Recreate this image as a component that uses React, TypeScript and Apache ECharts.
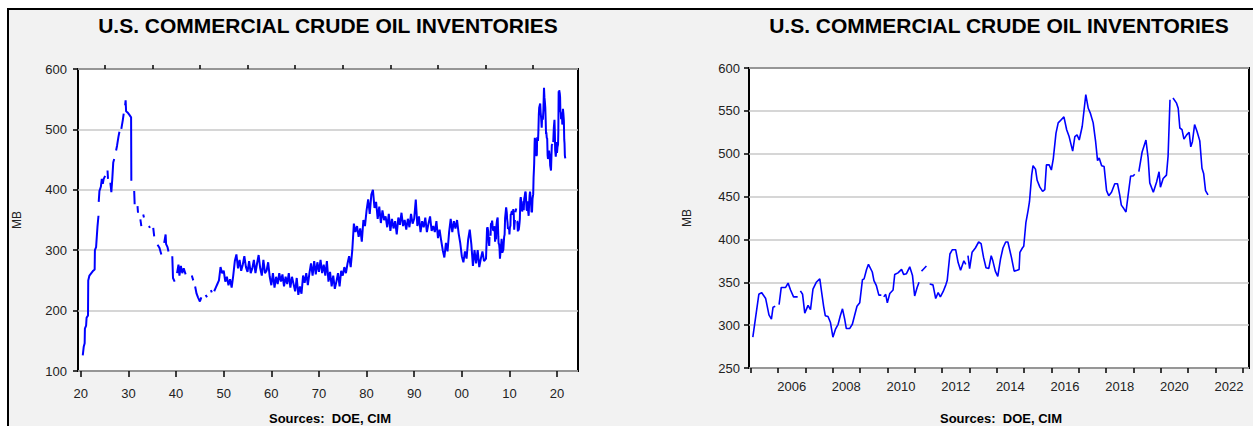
import React, { useEffect, useRef } from "react";
import * as echarts from "echarts";

const TITLE = "U.S. COMMERCIAL CRUDE OIL INVENTORIES";
const SOURCES = "Sources:  DOE, CIM";
const FONT = "'Liberation Sans', Arial, Helvetica, sans-serif";

// Left chart: early years (gaps where the record is broken)
const leftEarly: [number, number | null][] = [
  [1920.4, 126], [1920.6, 140], [1920.8, 146], [1920.85, 170], [1921.1, 175], [1921.2, 188], [1921.5, 192],
  [1921.55, 250], [1921.8, 258], [1922.2, 262], [1922.6, 266], [1922.9, 268], [1922.95, 300], [1923.2, 305],
  [1923.5, 340], [1923.7, 357], [1923.72, null], [1923.75, 380], [1923.9, 398], [1924.2, 405], [1924.4, 418],
  [1924.6, 410], [1924.8, 418], [1925.1, 423], [1925.3, null], [1925.6, 432], [1925.7, 418], [1925.9, null],
  [1926.2, 412], [1926.4, 396], [1926.6, 418], [1926.8, 445], [1927.0, 451], [1927.2, null], [1927.4, 465],
  [1927.6, 473], [1927.9, 488], [1928.1, 496], [1928.3, null], [1928.5, 501], [1928.8, 515], [1929.0, 526],
  [1929.15, null], [1929.3, 540], [1929.4, 548], [1929.5, 530], [1929.8, 528], [1930.2, 524], [1930.55, 520],
  [1930.6, 415], [1930.9, null], [1931.2, 398], [1931.3, 376], [1931.6, null], [1931.9, 373], [1932.0, 362],
  [1932.2, null], [1932.5, 351], [1932.7, 340], [1932.9, null], [1933.1, 359], [1933.25, 354], [1933.8, null],
  [1934.3, 340], [1934.5, 337], [1934.8, null], [1935.2, 337], [1935.4, 323], [1935.7, null], [1936.1, 309],
  [1936.5, 304], [1936.9, 293], [1937.2, null], [1937.5, 312], [1937.8, 326], [1937.9, 310], [1938.2, 305],
  [1938.4, 298], [1938.8, null], [1939.2, 290], [1939.35, 254], [1939.7, 248], [1939.9, null], [1940.2, 262],
  [1940.5, 276], [1940.7, 258], [1941.0, 274], [1941.3, 262], [1941.6, 270], [1942.0, 260], [1942.5, null],
  [1943.3, 258], [1943.6, 250], [1943.8, null], [1944.0, 240], [1944.3, 228], [1944.6, 222], [1945.0, 215],
  [1945.3, 222], [1945.7, null], [1946.2, 226], [1946.5, 222], [1946.9, null], [1947.3, 234], [1947.5, 230],
  [1947.7, null],
];

// Left chart: 1948-2004, three readings per year
const leftDenseStart = 1948;
const leftDense: number[] = [
  232, 238, 244, 250, 272, 262, 266, 248, 256, 242, 252, 238, 258, 282, 293, 270, 284, 266, 276, 290, 272,
  264, 282, 262, 270, 284, 262, 278, 292, 270, 258, 284, 262, 266, 280, 256, // 1948-1959
  242, 262, 238, 256, 244, 262, 248, 260, 240, 256, 244, 262, 238, 256, 244, 232, 254, 226, 240, 228, 258,
  246, 262, 242, 262, 278, 258, 282, 260, 280, // 1960s
  264, 284, 262, 276, 258, 282, 248, 264, 240, 258, 236, 248, 262, 240, 266, 258, 272, 262, 278, 290, 272,
  300, 344, 330, 340, 322, 336, 314, 350, 340, // 1970s
  366, 384, 360, 392, 400, 370, 380, 352, 372, 345, 366, 350, 356, 338, 360, 332, 352, 336, 348, 326, 354,
  342, 362, 340, 350, 334, 352, 338, 360, 344, // 1980s
  352, 384, 340, 356, 330, 348, 338, 354, 330, 344, 356, 332, 340, 330, 348, 320, 334, 316, 300, 288, 312,
  298, 330, 352, 330, 348, 336, 350, 328, 312, // 1990s
  290, 280, 298, 286, 318, 334, 310, 274, 300, 278, 300, 272, 286, 298, 282, // 2000-2004
];

// Right chart (and left from 2005): monthly readings
const recent: [number, number | null][] = [
  [2005.08, 286], [2005.3, 336], [2005.4, 338], [2005.55, 331], [2005.67, 312], [2005.76, 307], [2005.82, 321],
  [2005.9, 322], [2005.97, null], [2006.04, 324], [2006.12, 344], [2006.28, 344], [2006.37, 349], [2006.46, 341],
  [2006.57, 333], [2006.72, 333], [2006.77, null], [2006.82, 340], [2006.9, 336], [2006.98, 314], [2007.1, 323],
  [2007.19, 318], [2007.28, 342], [2007.4, 350], [2007.53, 354], [2007.59, 340], [2007.67, 322], [2007.73, 311],
  [2007.83, 310], [2007.92, 303], [2008.01, 286], [2008.1, 295], [2008.2, 301], [2008.28, 311], [2008.36, 319],
  [2008.44, 307], [2008.5, 296], [2008.62, 296], [2008.72, 301], [2008.8, 311], [2008.89, 322], [2008.99, 326],
  [2009.09, 353], [2009.15, 354], [2009.24, 365], [2009.31, 371], [2009.45, 362], [2009.51, 352], [2009.6, 346],
  [2009.69, 335], [2009.78, 335], [2009.82, null], [2009.87, 333], [2009.94, 336], [2010.0, 326], [2010.09, 337],
  [2010.21, 341], [2010.27, 359], [2010.39, 361], [2010.52, 365], [2010.6, 359], [2010.7, 360], [2010.82, 368],
  [2010.92, 358], [2011.0, 334], [2011.09, 344], [2011.16, 350], [2011.2, null], [2011.25, 363], [2011.31, 365],
  [2011.43, 369], [2011.49, null], [2011.55, 348], [2011.67, 347], [2011.77, 331], [2011.86, 338], [2011.94, 333],
  [2012.04, 339], [2012.14, 347], [2012.19, 352], [2012.29, 383], [2012.38, 388], [2012.5, 388], [2012.59, 373],
  [2012.68, 364], [2012.8, 375], [2012.87, 371], [2012.91, null], [2012.95, 381], [2013.01, 366], [2013.1, 385],
  [2013.22, 390], [2013.34, 397], [2013.43, 395], [2013.52, 379], [2013.61, 367], [2013.71, 366], [2013.8, 381],
  [2013.86, 375], [2013.95, 363], [2014.04, 357], [2014.14, 377], [2014.23, 390], [2014.33, 397], [2014.41, 397],
  [2014.54, 379], [2014.64, 363], [2014.75, 364], [2014.82, 365], [2014.85, 385], [2014.94, 390], [2014.99, 392],
  [2015.07, 420], [2015.15, 434], [2015.2, 444], [2015.28, 475], [2015.33, 486], [2015.42, 482], [2015.48, 469],
  [2015.58, 461], [2015.68, 456], [2015.76, 458], [2015.82, 487], [2015.92, 487], [2016.0, 481], [2016.07, 494],
  [2016.17, 524], [2016.25, 536], [2016.37, 540], [2016.46, 543], [2016.56, 528], [2016.65, 520], [2016.78, 503],
  [2016.86, 520], [2016.94, 522], [2017.02, 516], [2017.13, 532], [2017.26, 569], [2017.35, 553], [2017.43, 547],
  [2017.53, 536], [2017.62, 514], [2017.69, 492], [2017.75, 495], [2017.84, 486], [2017.93, 485], [2018.02, 457],
  [2018.1, 451], [2018.2, 455], [2018.32, 465], [2018.42, 465], [2018.5, 452], [2018.56, 440], [2018.65, 436],
  [2018.73, 432], [2018.81, 452], [2018.9, 474], [2018.99, 474], [2019.05, 476], [2019.12, null], [2019.2, 479],
  [2019.32, 502], [2019.46, 516], [2019.54, 495], [2019.6, 466], [2019.73, 455], [2019.85, 467], [2019.94, 479],
  [2019.99, 461], [2020.09, 471], [2020.21, 475], [2020.27, 497], [2020.34, 563], [2020.4, null], [2020.45, 565],
  [2020.58, 559], [2020.64, 553], [2020.7, 530], [2020.78, 528], [2020.85, 517], [2020.95, 522], [2021.04, 525],
  [2021.1, 508], [2021.16, 514], [2021.24, 534], [2021.33, 526], [2021.43, 515], [2021.51, 483], [2021.57, 477],
  [2021.64, 457], [2021.73, 452],
];

const leftMajorTicks = [1920, 1930, 1940, 1950, 1960, 1970, 1980, 1990, 2000, 2010, 2020];
const leftMinorTicks = [1925, 1935, 1945, 1955, 1965, 1975, 1985, 1995, 2005, 2015];
const rightTicks = [2005, 2006, 2007, 2008, 2009, 2010, 2011, 2012, 2013, 2014, 2015, 2016, 2017, 2018, 2019, 2020, 2021, 2022, 2023];
const rightLabels = [2006, 2008, 2010, 2012, 2014, 2016, 2018, 2020, 2022];

const toPts = (arr: [number, number | null][]) => arr.map(([x, y]) => [x, y === null ? "-" : y]);

export default function App() {
  const ref = useRef<HTMLDivElement>(null);
  useEffect(() => {
    if (!ref.current) return;
    const chart = echarts.init(ref.current, null, { renderer: "svg" });
    const leftData = [
      ...toPts(leftEarly),
      ...leftDense.map((v, i) => [leftDenseStart + i / 3, v]),
      ...toPts(recent),
    ];
    const rightData = toPts(recent);
    const tickStyle = { color: "#000", width: 1.5 };
    const labelStyle = { color: "#222", fontSize: 13, fontFamily: FONT };
    const split = { show: true, lineStyle: { color: "#c8c8c8", width: 1.5 } };
    chart.setOption({
      animation: false,
      backgroundColor: "transparent",
      textStyle: { fontFamily: FONT },
      grid: [
        { left: 78, top: 69, width: 500, height: 302, show: true, borderColor: "#000", borderWidth: 2, backgroundColor: "#fff" },
        { left: 749, top: 68, width: 500, height: 300, show: true, borderColor: "#000", borderWidth: 2, backgroundColor: "#fff" },
      ],
      xAxis: [
        {
          gridIndex: 0, type: "value", min: 1919.4, max: 2024.4,
          axisLine: { show: false }, splitLine: { show: false },
          axisTick: { show: true, customValues: leftMajorTicks, length: 6, lineStyle: tickStyle },
          axisLabel: { ...labelStyle, customValues: leftMajorTicks, margin: 16, formatter: (v: number) => String(Math.round(v) % 100).padStart(2, "0") },
        },
        {
          gridIndex: 0, type: "value", min: 1919.4, max: 2024.4,
          axisLine: { show: false }, splitLine: { show: false }, axisLabel: { show: false },
          axisTick: { show: true, customValues: leftMinorTicks, length: 4, lineStyle: tickStyle },
        },
        {
          gridIndex: 1, type: "value", min: 2004.94, max: 2023.23,
          axisLine: { show: false }, splitLine: { show: false },
          axisTick: { show: true, customValues: rightTicks, length: 5, lineStyle: tickStyle },
          axisLabel: { ...labelStyle, customValues: rightLabels.map((y) => y + 0.5), margin: 12, formatter: (v: number) => String(Math.floor(v)) },
        },
      ],
      yAxis: [
        {
          gridIndex: 0, type: "value", min: 100, max: 600, interval: 100,
          name: "MB", nameLocation: "middle", nameGap: 55, nameRotate: 90,
          nameTextStyle: { color: "#222", fontSize: 12, fontFamily: FONT },
          axisLine: { show: false },
          axisTick: { show: true, length: 5, lineStyle: tickStyle },
          axisLabel: { ...labelStyle, margin: 11 },
          splitLine: split,
        },
        {
          gridIndex: 1, type: "value", min: 250, max: 600, interval: 50,
          name: "MB", nameLocation: "middle", nameGap: 56, nameRotate: 90,
          nameTextStyle: { color: "#222", fontSize: 12, fontFamily: FONT },
          axisLine: { show: false },
          axisTick: { show: true, length: 5, lineStyle: tickStyle },
          axisLabel: { ...labelStyle, margin: 9 },
          splitLine: split,
        },
      ],
      series: [
        {
          type: "line", xAxisIndex: 0, yAxisIndex: 0, data: leftData, showSymbol: false, connectNulls: false,
          lineStyle: { color: "#0000ff", width: 2 }, itemStyle: { color: "#0000ff" }, z: 3,
        },
        {
          type: "line", xAxisIndex: 2, yAxisIndex: 1, data: rightData, showSymbol: false, connectNulls: false,
          lineStyle: { color: "#0000ff", width: 1.6 }, itemStyle: { color: "#0000ff" }, z: 3,
        },
      ],
      graphic: [
        { type: "text", x: 328, y: 25, style: { text: TITLE, fill: "#000", font: `bold 21px ${FONT}`, textAlign: "center", textVerticalAlign: "middle", align: "center", verticalAlign: "middle" } },
        { type: "text", x: 999, y: 25, style: { text: TITLE, fill: "#000", font: `bold 21px ${FONT}`, textAlign: "center", textVerticalAlign: "middle", align: "center", verticalAlign: "middle" } },
        { type: "text", x: 330, y: 425, style: { text: SOURCES, fill: "#000", font: `bold 13px ${FONT}`, textAlign: "center", textVerticalAlign: "bottom", align: "center", verticalAlign: "bottom" } },
        { type: "text", x: 1001, y: 425, style: { text: SOURCES, fill: "#000", font: `bold 13px ${FONT}`, textAlign: "center", textVerticalAlign: "bottom", align: "center", verticalAlign: "bottom" } },
      ],
    });
    return () => chart.dispose();
  }, []);
  return (
    <div style={{ position: "fixed", left: 0, top: 0, width: 1253, height: 426, background: "#fff", overflow: "hidden" }}>
      <div style={{ position: "absolute", left: 7, top: 8, width: 1320, height: 500, border: "2px solid #000", background: "#f2f2f2", boxSizing: "border-box" }} />
      <div ref={ref} style={{ position: "absolute", left: 0, top: 0, width: 1253, height: 426 }} />
    </div>
  );
}
